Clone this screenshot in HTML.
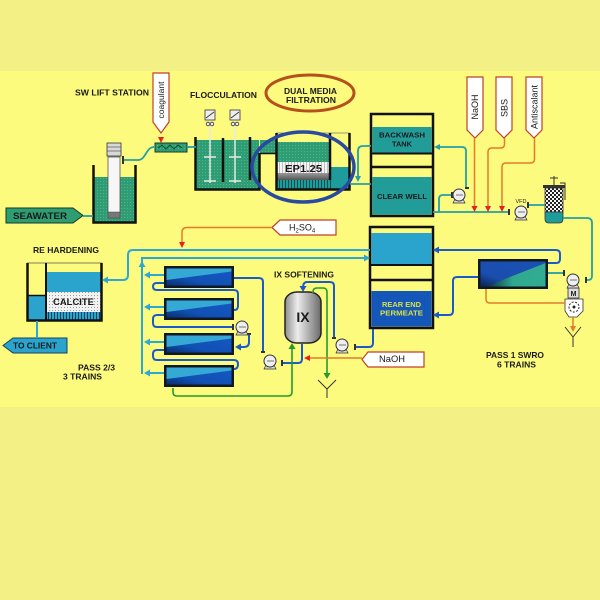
<!DOCTYPE html>
<html><head><meta charset="utf-8"><style>
html,body{margin:0;padding:0;background:#F3F186;}
svg{display:block}
text{font-family:"Liberation Sans",Arial,sans-serif;fill:#1a1a1a}
.b{font-weight:bold}
</style></head><body>
<svg width="600" height="600" viewBox="0 0 600 600" xmlns="http://www.w3.org/2000/svg">
<defs>
<pattern id="gw" width="3" height="3" patternUnits="userSpaceOnUse"><rect width="3" height="3" fill="#2F9D73"/><rect x="1" y="1" width="1" height="1" fill="#52B48E"/></pattern>
<pattern id="cal" width="3" height="3" patternUnits="userSpaceOnUse"><rect width="3" height="3" fill="#F2F2F2"/><rect x="1" y="1" width="1" height="1" fill="#9A9A9A"/></pattern>
<pattern id="chk" width="4" height="4" patternUnits="userSpaceOnUse"><rect width="4" height="4" fill="#F5F5F5"/><rect width="2" height="2" fill="#222"/><rect x="2" y="2" width="2" height="2" fill="#222"/></pattern>
<pattern id="ep" width="3" height="11" patternUnits="userSpaceOnUse"><rect width="3" height="11" fill="#F4F4F4"/><rect width="1" height="11" fill="#BEBEBE"/></pattern>
<pattern id="udt" width="3" height="8" patternUnits="userSpaceOnUse"><rect width="3" height="8" fill="#1E9C9C"/><rect width="1" height="8" fill="#0F4F50"/></pattern>
<pattern id="udb" width="3" height="8" patternUnits="userSpaceOnUse"><rect width="3" height="8" fill="#2AA4CC"/><rect width="1" height="8" fill="#114060"/></pattern>
<linearGradient id="ixg" x1="0" y1="0" x2="1" y2="0"><stop offset="0" stop-color="#8E8E8E"/><stop offset="0.35" stop-color="#EDEDED"/><stop offset="1" stop-color="#6A6A6A"/></linearGradient>
<linearGradient id="ro2" x1="0" y1="1" x2="1" y2="0"><stop offset="0" stop-color="#0A2F6E"/><stop offset="0.35" stop-color="#1150B4"/><stop offset="1" stop-color="#1658C4"/></linearGradient>
<linearGradient id="ro1" x1="0" y1="1" x2="1" y2="0"><stop offset="0" stop-color="#0B2450"/><stop offset="0.3" stop-color="#1A4FB0"/><stop offset="1" stop-color="#1A50B2"/></linearGradient>
<linearGradient id="ro1t" x1="0" y1="0" x2="1" y2="0"><stop offset="0" stop-color="#0B2A40"/><stop offset="0.45" stop-color="#2FA88E"/><stop offset="1" stop-color="#32AC92"/></linearGradient>
<linearGradient id="grey" x1="0" y1="0" x2="0" y2="1"><stop offset="0" stop-color="#9A9A9A"/><stop offset="1" stop-color="#555"/></linearGradient>
<g id="rov">
 <rect x="0" y="0" width="70" height="22" fill="#111820"/>
 <rect x="2.5" y="2.5" width="65" height="17" fill="url(#ro2)"/>
 <polygon points="2.5,2.5 67.5,2.5 67.5,5.5 2.5,14" fill="#35A9D6"/>
</g>
<g id="pump">
 <polygon points="-4,4 4,4 6,8 -6,8" fill="#DADADA" stroke="#333" stroke-width="0.7"/>
 <circle cx="0" cy="0" r="6" fill="#EFEFEF" stroke="#333" stroke-width="1"/>
 <line x1="-3" y1="0" x2="4" y2="0" stroke="#555" stroke-width="0.8"/>
</g>
</defs>

<!-- background bands -->
<rect x="0" y="0" width="600" height="600" fill="#F3F186"/>
<rect x="0" y="71" width="600" height="336" fill="#FDFB7E"/>

<!-- ===== SW LIFT STATION ===== -->
<text class="b" x="75" y="95.5" font-size="8.5" textLength="74" lengthAdjust="spacingAndGlyphs">SW LIFT STATION</text>
<rect x="94" y="177" width="41" height="45" fill="url(#gw)"/>
<path d="M93.5,165 V222.5 H135.5 V165" fill="none" stroke="#111" stroke-width="2.5"/>
<rect x="108" y="157" width="12" height="56" fill="#F6F6F6" stroke="#555" stroke-width="0.8"/>
<rect x="108" y="212" width="12" height="6" fill="#777" stroke="#444" stroke-width="0.5"/>
<rect x="107" y="143" width="14" height="13" fill="#D8D8D8" stroke="#333" stroke-width="0.8"/>
<line x1="107" y1="147" x2="121" y2="147" stroke="#555" stroke-width="0.7"/>
<line x1="107" y1="151" x2="121" y2="151" stroke="#555" stroke-width="0.7"/>
<rect x="122" y="156" width="2" height="8" fill="#333"/>

<!-- seawater arrow -->
<polygon points="6,208 73,208 83,215.5 73,223 6,223" fill="#2E9E72" stroke="#0F3A2A" stroke-width="1"/>
<text class="b" x="13" y="219" font-size="9.5" textLength="54" lengthAdjust="spacingAndGlyphs">SEAWATER</text>

<!-- coagulant -->
<polygon points="153,73 169,73 169,122 161,133 153,122" fill="#FFFFFF" stroke="#C0402A" stroke-width="1.2"/>
<text transform="translate(164,100) rotate(-90)" text-anchor="middle" font-size="8.5">coagulant</text>
<polygon points="161,143 158,137 164,137" fill="#E82020"/>

<!-- static mixer -->
<rect x="155" y="143" width="32" height="9" fill="url(#gw)" stroke="#0F3A2A" stroke-width="1"/>
<polyline points="158,148 162,145 166,149 170,145 174,149 178,145 182,148" fill="none" stroke="#0F3A2A" stroke-width="0.8"/>

<!-- ===== FLOCCULATION ===== -->
<text class="b" x="190" y="98" font-size="8.5" textLength="67" lengthAdjust="spacingAndGlyphs">FLOCCULATION</text>
<rect x="196" y="140" width="63" height="49" fill="url(#gw)"/>
<rect x="260" y="140" width="16" height="13" fill="url(#gw)"/>
<line x1="259" y1="153.5" x2="276" y2="153.5" stroke="#111" stroke-width="1.5"/>
<path d="M195.5,137 V189.5 H259.5 V153" fill="none" stroke="#111" stroke-width="2.5"/>
<line x1="223" y1="138" x2="223" y2="182" stroke="#111" stroke-width="2.5"/>
<line x1="250" y1="137" x2="250" y2="180" stroke="#111" stroke-width="2.5"/>
<!-- mixers -->
<g stroke="#E8E8E8" stroke-width="1.5">
 <line x1="210" y1="122" x2="210" y2="183"/>
 <line x1="235" y1="122" x2="235" y2="183"/>
 <line x1="204" y1="157" x2="216" y2="157"/>
 <line x1="229" y1="157" x2="241" y2="157"/>
 <line x1="204" y1="181" x2="216" y2="181"/>
 <line x1="229" y1="181" x2="241" y2="181"/>
</g>
<g fill="#EEE" stroke="#333" stroke-width="0.8">
 <rect x="205" y="110" width="10" height="10"/>
 <rect x="230" y="110" width="10" height="10"/>
 <circle cx="208" cy="124" r="1.8"/><circle cx="212" cy="124" r="1.8"/>
 <circle cx="233" cy="124" r="1.8"/><circle cx="237" cy="124" r="1.8"/>
</g>
<line x1="206" y1="118" x2="214" y2="112" stroke="#333" stroke-width="0.8"/>
<line x1="231" y1="118" x2="239" y2="112" stroke="#333" stroke-width="0.8"/>

<!-- ===== DUAL MEDIA FILTER ===== -->
<ellipse cx="310" cy="93" rx="44" ry="18" fill="none" stroke="#B5501C" stroke-width="3"/>
<text class="b" x="284" y="94" font-size="8.5" textLength="53" lengthAdjust="spacingAndGlyphs">DUAL MEDIA</text>
<text class="b" x="286" y="103" font-size="8.5" textLength="50" lengthAdjust="spacingAndGlyphs">FILTRATION</text>

<line x1="276" y1="133" x2="350" y2="133" stroke="#777" stroke-width="0.8"/>
<rect x="277" y="142" width="53" height="20" fill="url(#gw)"/>
<rect x="277" y="162" width="53" height="11" fill="url(#ep)"/>
<rect x="277" y="173" width="53" height="7" fill="url(#grey)"/>
<rect x="277" y="180" width="72" height="9" fill="url(#udt)"/>
<rect x="331" y="167" width="18" height="22" fill="#1E9C9C"/>
<text class="b" x="285" y="172" font-size="10" textLength="37" lengthAdjust="spacingAndGlyphs">EP1.25</text>
<path d="M276.5,133 V189.5 H349.5 V133" fill="none" stroke="#111" stroke-width="2.5"/>
<line x1="330" y1="133" x2="330" y2="180" stroke="#111" stroke-width="2.5"/>
<ellipse cx="303" cy="167" rx="51" ry="35" fill="none" stroke="#2A4AA0" stroke-width="3.5"/>

<!-- ===== COLUMN 1 (backwash / clear well) ===== -->
<rect x="371" y="114" width="62" height="102" fill="#FDFB7E" stroke="#111" stroke-width="2.5"/>
<rect x="372.5" y="127" width="59" height="26" fill="#229C98"/>
<line x1="371" y1="153.5" x2="433" y2="153.5" stroke="#111" stroke-width="2"/>
<line x1="371" y1="167" x2="433" y2="167" stroke="#111" stroke-width="2.5"/>
<rect x="372.5" y="177" width="59" height="37.5" fill="#229C98"/>
<text class="b" x="379" y="137.3" font-size="7.5" textLength="46" lengthAdjust="spacingAndGlyphs">BACKWASH</text>
<text class="b" x="392" y="146.3" font-size="7.5" textLength="20" lengthAdjust="spacingAndGlyphs">TANK</text>
<text class="b" x="377" y="199" font-size="7.5" textLength="50" lengthAdjust="spacingAndGlyphs">CLEAR WELL</text>

<!-- chemicals -->
<g fill="#FFFFFF" stroke="#C0402A" stroke-width="1.2">
 <polygon points="467,77 483,77 483,130 475,138 467,130"/>
 <polygon points="496,77 512,77 512,130 504,138 496,130"/>
 <polygon points="526,77 542,77 542,130 534,138 526,130"/>
</g>
<text transform="translate(478,107) rotate(-90)" text-anchor="middle" font-size="9">NaOH</text>
<text transform="translate(507.5,108) rotate(-90)" text-anchor="middle" font-size="9">SBS</text>
<text transform="translate(537.5,107) rotate(-90)" text-anchor="middle" font-size="9">Antiscalant</text>

<!-- cartridge filter -->
<line x1="554" y1="176" x2="554" y2="185" stroke="#333" stroke-width="1"/>
<line x1="550" y1="178" x2="558" y2="178" stroke="#333" stroke-width="1"/>
<path d="M560,183 H565 V200" fill="none" stroke="#333" stroke-width="1"/>
<rect x="543" y="185" width="22" height="3" fill="#333"/>
<rect x="545" y="188" width="18" height="24" fill="url(#chk)" stroke="#333" stroke-width="0.8"/>
<path d="M545,212 H563 V219 Q563,223 559,223 H549 Q545,223 545,219 Z" fill="#1E9C9C" stroke="#333" stroke-width="0.8"/>

<!-- ===== COLUMN 2 ===== -->
<rect x="370" y="227" width="63" height="101" fill="#FDFB7E" stroke="#111" stroke-width="2.5"/>
<rect x="371.5" y="233" width="60" height="31" fill="#2AA4CC"/>
<line x1="370" y1="265" x2="433" y2="265" stroke="#111" stroke-width="2"/>
<line x1="370" y1="280" x2="433" y2="280" stroke="#111" stroke-width="2.5"/>
<rect x="371.5" y="291" width="60" height="35.5" fill="#1557B8"/>
<text class="b" x="382" y="307" font-size="7.5" textLength="39" lengthAdjust="spacingAndGlyphs" style="fill:#D8E048">REAR END</text>
<text class="b" x="380" y="315.5" font-size="7.5" textLength="43" lengthAdjust="spacingAndGlyphs" style="fill:#D8E048">PERMEATE</text>

<!-- ===== SWRO PASS 1 ===== -->
<rect x="478" y="259" width="70" height="30" fill="#111820"/>
<rect x="480.5" y="261.5" width="65" height="25" fill="url(#ro1)"/>
<polygon points="486,286.5 545.5,263 545.5,286.5" fill="url(#ro1t)"/>
<text class="b" x="486" y="358" font-size="8.5" textLength="58" lengthAdjust="spacingAndGlyphs">PASS 1 SWRO</text>
<text class="b" x="497" y="367.3" font-size="8.5" textLength="39" lengthAdjust="spacingAndGlyphs">6 TRAINS</text>
<!-- motor and turbine -->
<rect x="568" y="288" width="11" height="10" fill="#DDD" stroke="#333" stroke-width="0.8"/>
<text class="b" x="573.5" y="296" text-anchor="middle" font-size="7">M</text>
<polygon points="565,299 583,299 583,311 577,317 569,317 565,311" fill="#FFF" stroke="#333" stroke-width="0.8"/>
<circle cx="574" cy="307" r="5" fill="none" stroke="#222" stroke-width="1" stroke-dasharray="2 1.5"/>
<circle cx="574" cy="307" r="1.5" fill="#222"/>

<!-- ===== RE HARDENING ===== -->
<text class="b" x="33" y="253" font-size="8.5" textLength="66" lengthAdjust="spacingAndGlyphs">RE HARDENING</text>
<rect x="28" y="296" width="17" height="24" fill="#2AA4CC"/>
<rect x="47" y="272" width="54" height="20" fill="#2AA4CC"/>
<rect x="47" y="292" width="54" height="20" fill="url(#cal)"/>
<rect x="47" y="312" width="54" height="8" fill="url(#udb)"/>
<line x1="27" y1="263" x2="102" y2="263" stroke="#555" stroke-width="0.8"/>
<path d="M27.5,263 V320.5 H101.5 V263" fill="none" stroke="#111" stroke-width="2.5"/>
<line x1="46" y1="263" x2="46" y2="321" stroke="#111" stroke-width="2"/>
<line x1="27" y1="295.5" x2="46" y2="295.5" stroke="#111" stroke-width="1.5"/>
<text class="b" x="53" y="305" font-size="9.5" textLength="41" lengthAdjust="spacingAndGlyphs">CALCITE</text>
<polygon points="3,345.5 13,338 67,338 67,353 13,353" fill="#2AA4CC" stroke="#154060" stroke-width="1"/>
<text class="b" x="13" y="348.7" font-size="8.5" textLength="44" lengthAdjust="spacingAndGlyphs">TO CLIENT</text>
<text class="b" x="78" y="370.3" font-size="8.5" textLength="37" lengthAdjust="spacingAndGlyphs">PASS 2/3</text>
<text class="b" x="63" y="379.7" font-size="8.5" textLength="39" lengthAdjust="spacingAndGlyphs">3 TRAINS</text>

<!-- ===== PASS 2/3 RO vessels ===== -->
<use href="#rov" x="164" y="266"/>
<use href="#rov" x="164" y="298"/>
<use href="#rov" x="164" y="333"/>
<use href="#rov" x="164" y="365"/>

<!-- IX -->
<text class="b" x="274" y="277.3" font-size="8.5" textLength="60" lengthAdjust="spacingAndGlyphs">IX SOFTENING</text>
<rect x="285" y="292" width="36" height="51" rx="12" ry="10" fill="url(#ixg)" stroke="#222" stroke-width="1.5"/>
<text class="b" x="303" y="322" text-anchor="middle" font-size="14">IX</text>

<!-- H2SO4 -->
<polygon points="272,227.5 280,220 336,220 336,235 280,235" fill="#FFF" stroke="#C0402A" stroke-width="1.2"/>
<text x="289" y="230.5" font-size="9">H<tspan font-size="6" dy="2">2</tspan><tspan dy="-2">SO</tspan><tspan font-size="6" dy="2">4</tspan></text>

<!-- NaOH lower -->
<polygon points="362,359.5 368,352 424,352 424,367 368,367" fill="#FFF" stroke="#C0402A" stroke-width="1.2"/>
<text x="379" y="362" font-size="9" textLength="26" lengthAdjust="spacingAndGlyphs">NaOH</text>

<!-- ===== PIPING ===== -->
<!-- teal -->
<g fill="none" stroke="#22A0A6" stroke-width="1.8">
 <path d="M124,160 H138 C146,160 146,147 154,147"/>
 <path d="M187,147 H196"/>
 <path d="M83,216 H93"/>
 <path d="M371,146 H363 Q358,146 358,151 V177"/>
 <path d="M350,184 H371"/>
 <path d="M433,212 H508"/>
 <path d="M439,212 V199 Q439,195 443,195 H451"/>
 <path d="M466,188 V151 Q466,147 462,147 H439"/>
 <path d="M528,205 H545"/>
 <path d="M563,218 H587 Q592,218 592,223 V276 Q592,280 588,280 H586"/>
 <path d="M548,273 H564"/>
</g>
<g fill="#22A0A6">
 <polygon points="358,182 355,176 361,176"/>
 <polygon points="434,147 440,144 440,150"/>
</g>

<!-- light blue -->
<g fill="none" stroke="#2DA8D4" stroke-width="2">
 <path d="M370,250 H133 Q128,250 128,255 V275 Q128,280 123,280 H107"/>
 <path d="M142,374 V258 H365"/>
 <path d="M164,275 H148"/><path d="M164,307 H148"/><path d="M164,342 H148"/><path d="M164,373 H148"/>
 <path d="M37,321 V338"/>
</g>
<g fill="#2DA8D4">
 <polygon points="102,280 108,276.5 108,283.5"/>
 <polygon points="370,258 364,254.5 364,261.5"/>
 <polygon points="142,261 138.5,267 145.5,267"/>
 <polygon points="144,275 150,271.5 150,278.5"/>
 <polygon points="144,307 150,303.5 150,310.5"/>
 <polygon points="144,342 150,338.5 150,345.5"/>
 <polygon points="144,373 150,369.5 150,376.5"/>
</g>

<!-- blue -->
<g fill="none" stroke="#1B5BC9" stroke-width="2">
 <path d="M164,283 H157 Q153,283 153,286.5 Q153,290 157,290 H234 Q238,290 238,294 V306 Q238,310 234,310"/>
 <path d="M164,315 H157 Q153,315 153,319 V323 Q153,327 157,327 H233"/>
 <path d="M249,334 V342 Q249,347 244,347 H240"/>
 <path d="M164,350 H157 Q153,350 153,354 V356 Q153,360 157,360 H234 Q238,360 238,364 Q238,369 234,369"/>
 <path d="M234,278 H259 Q263,278 263,282 V352"/>
 <path d="M282,363 H298 Q302,363 302,359 V344"/>
 <path d="M303,288 Q303,282 307,282 H330 Q334,282 334,286 V337"/>
 <path d="M355,347 H369 Q373,347 373,343 V329"/>
 <path d="M548,263 H556 Q560,263 560,259 V254 Q560,250 556,250 H438"/>
 <path d="M478,277 H457 Q453,277 453,281 V311 Q453,315 449,315 H438"/>
</g>
<g fill="#1B5BC9">
 <polygon points="235,347 241,343.5 241,350.5"/>
 <polygon points="303,292 299.5,286 306.5,286"/>
 <polygon points="433,250 439,246.5 439,253.5"/>
 <polygon points="433,315 439,311.5 439,318.5"/>
</g>

<!-- green -->
<g fill="none" stroke="#249A2E" stroke-width="1.6">
 <path d="M173,388 V392 Q173,396 177,396 H288 Q292,396 292,392 V349"/>
 <path d="M313,293 V292 Q313,288 317,288 H323 Q327,288 327,292 V374"/>
</g>
<g fill="#249A2E">
 <polygon points="292,343 288.5,349 295.5,349"/>
 <polygon points="327,379 323.5,373 330.5,373"/>
</g>

<!-- orange -->
<g fill="none" stroke="#E47A2A" stroke-width="1.5">
 <path d="M474.5,138 V207"/>
 <path d="M504.5,138 V144 Q504.5,148 500.5,148 H492 Q488,148 488,152 V207"/>
 <path d="M534.5,138 V159 Q534.5,163 530.5,163 H506 Q502,163 502,167 V207"/>
 <path d="M272,227.5 H187 Q182,227.5 182,232.5 V243"/>
 <path d="M362,358 H309"/>
 <path d="M486,289 V299 Q486,303 490,303 H565"/>
 <path d="M573,317 V327"/>
</g>
<g fill="#E82020">
 <polygon points="474.5,212 471.5,206 477.5,206"/>
 <polygon points="488,212 485,206 491,206"/>
 <polygon points="502,212 499,206 505,206"/>
 <polygon points="182,248 179,242 185,242"/>
 <polygon points="304,358 310,355 310,361"/>
</g>
<polygon points="573,332 570,326 576,326" fill="#E47A2A"/>

<!-- drains -->
<g stroke="#333" stroke-width="1" fill="none">
 <path d="M565,327 L573,337 L581,327 M573,337 V347"/>
 <path d="M318,380 L327,389 L336,380 M327,389 V398"/>
</g>

<!-- pumps -->
<use href="#pump" x="459" y="195"/>
<use href="#pump" x="521" y="212"/>
<use href="#pump" x="573" y="280"/>
<use href="#pump" x="242" y="327"/>
<use href="#pump" x="270" y="361"/>
<use href="#pump" x="342" y="345"/>
<text x="521" y="203" text-anchor="middle" font-size="5.5">VFD</text>
<!-- flanges -->
<g fill="#333">
 <rect x="451" y="192" width="2" height="6"/>
 <rect x="465" y="187" width="4" height="2"/>
 <rect x="508" y="209" width="2" height="6"/>
 <rect x="527" y="202" width="2" height="6"/>
 <rect x="563" y="270" width="2" height="6"/>
 <rect x="585" y="277" width="2" height="6"/>
 <rect x="232" y="324" width="2" height="6"/>
 <rect x="247" y="333" width="4" height="2"/>
 <rect x="261" y="351" width="4" height="2"/>
 <rect x="281" y="360" width="2" height="6"/>
 <rect x="332" y="337" width="4" height="2"/>
 <rect x="354" y="344" width="2" height="6"/>
</g>
</svg>
</body></html>
